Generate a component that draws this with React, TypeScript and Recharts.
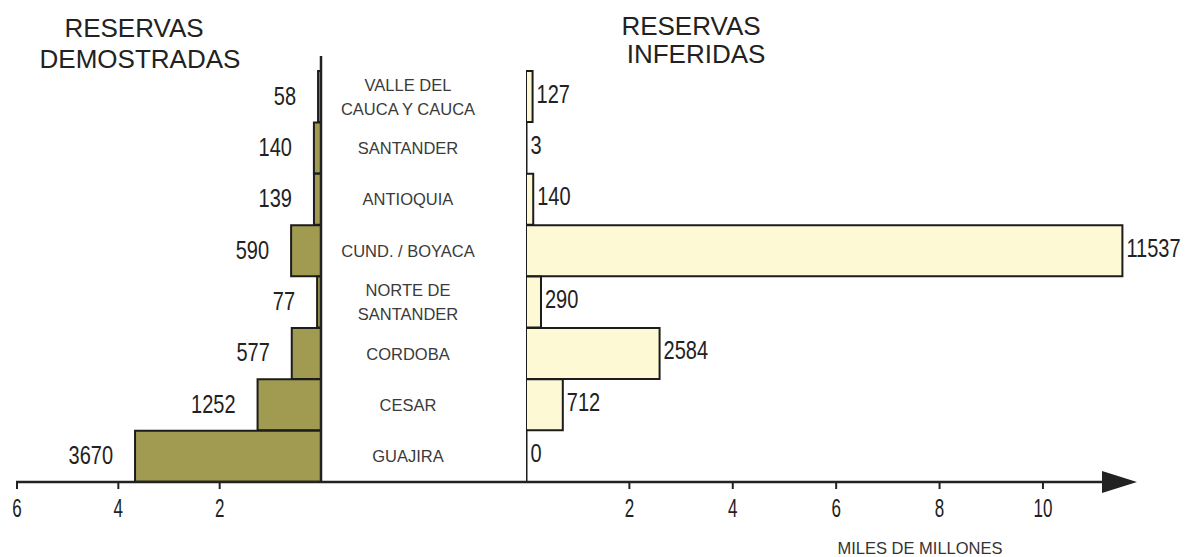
import React from 'react';
import { BarChart, Bar, XAxis, YAxis, LabelList } from 'recharts';

// regiones (de arriba hacia abajo), valores en millones de toneladas
const regiones = [
  'VALLE DEL\nCAUCA Y CAUCA',
  'SANTANDER',
  'ANTIOQUIA',
  'CUND. / BOYACA',
  'NORTE DE\nSANTANDER',
  'CORDOBA',
  'CESAR',
  'GUAJIRA',
];
const demostradas = [58, 140, 139, 590, 77, 577, 1252, 3670];
const inferidas = [127, 3, 140, 11537, 290, 2584, 712, 0];
const ticksDem = [2000, 4000, 6000];
const ticksInf = [2000, 4000, 6000, 8000, 10000];

const data = regiones.map((r, i) => ({ region: r, dem: demostradas[i], inf: inferidas[i] }));

const W = 1194;
const H = 557;
const AXIS_Y = 482;
const TOP = 56;
const INK = '#222';
const SANS = "'Liberation Sans', Arial, sans-serif";

// texto angosto (tipo Helvetica Condensed)
const Narrow = ({ x, y, anchor, size, sx, children }: any) => (
  <text transform={`translate(${x},${y}) scale(${sx},1)`} textAnchor={anchor}
    fontFamily={SANS} fontSize={size} fill={INK}>
    {children}
  </text>
);

const RegionTick = (props: any) => {
  const { y, payload } = props;
  const lines = String(payload.value).split('\n');
  const lh = 24;
  const start = y - ((lines.length - 1) * lh) / 2;
  return (
    <text x={408} y={start} textAnchor="middle" dominantBaseline="central" fontFamily={SANS} fontSize={16.5} fill="#3a3a3a">
      {lines.map((l, i) => (
        <tspan key={i} x={408} y={start + i * lh}>{l}</tspan>
      ))}
    </text>
  );
};

const NumTick = (props: any) => {
  const { x, y, payload } = props;
  return <Narrow x={x} y={y + 26} anchor="middle" size={25} sx={0.68}>{payload.value / 1000}</Narrow>;
};

const LeftLabel = (props: any) => {
  const { x, y, width, height, value } = props;
  const edge = Math.min(x, x + width);
  return <Narrow x={edge - 22} y={y + height / 2 + 8} anchor="end" size={25} sx={0.8}>{value}</Narrow>;
};

const RightLabel = (props: any) => {
  const { x, y, width, height, value } = props;
  const edge = Math.max(x, x + width);
  return <Narrow x={edge + 4} y={y + height / 2 + 6} anchor="start" size={25} sx={0.8}>{value}</Narrow>;
};

export default function App() {
  return (
    <div style={{ position: 'absolute', left: 0, top: 0, width: W, height: H, background: '#fff' }}>
      {/* reservas demostradas: barras hacia la izquierda */}
      <div style={{ position: 'absolute', left: 0, top: 0 }}>
        <BarChart width={526} height={H} data={data} layout="vertical" barCategoryGap={0}
          margin={{ top: TOP, right: 0, bottom: 0, left: 17 }}>
          <XAxis type="number" domain={[0, 6000]} reversed ticks={ticksDem} allowDataOverflow
            axisLine={false} tickLine={{ stroke: INK, strokeWidth: 2 }} tickSize={7} height={H - AXIS_Y} tick={<NumTick />} />
          <YAxis type="category" dataKey="region" orientation="right" width={205} padding={{ top: 15, bottom: 0 }}
            axisLine={{ stroke: INK, strokeWidth: 2.5 }} tickLine={false} tick={<RegionTick />} interval={0} />
          <Bar dataKey="dem" fill="#a19b52" stroke="#1c1c1c" strokeWidth={2} isAnimationActive={false}>
            <LabelList dataKey="dem" content={<LeftLabel />} />
          </Bar>
        </BarChart>
      </div>

      {/* reservas inferidas: barras hacia la derecha */}
      <div style={{ position: 'absolute', left: 0, top: 0 }}>
        <BarChart width={W} height={H} data={data} layout="vertical" barCategoryGap={0}
          margin={{ top: TOP, right: 58, bottom: 0, left: 526 }}>
          <XAxis type="number" domain={[0, 11800]} ticks={ticksInf} allowDataOverflow
            axisLine={false} tickLine={{ stroke: INK, strokeWidth: 2 }} tickSize={7} height={H - AXIS_Y} tick={<NumTick />} />
          <YAxis type="category" dataKey="region" width={0} padding={{ top: 15, bottom: 0 }}
            axisLine={{ stroke: INK, strokeWidth: 2.5 }} tickLine={false} tick={false} />
          <Bar dataKey="inf" fill="#fdf9d4" stroke="#1c1c1c" strokeWidth={2} minPointSize={0.5} isAnimationActive={false}>
            <LabelList dataKey="inf" content={<RightLabel />} />
          </Bar>
        </BarChart>
      </div>

      {/* eje horizontal con flecha y títulos */}
      <svg width={W} height={H} style={{ position: 'absolute', left: 0, top: 0, pointerEvents: 'none' }}>
        <line x1={16} y1={AXIS_Y} x2={1108} y2={AXIS_Y} stroke={INK} strokeWidth={2.5} />
        <polygon points={`1102,${AXIS_Y - 11} 1137,${AXIS_Y} 1102,${AXIS_Y + 11}`} fill={INK} />
        <g fontFamily={SANS} fontSize={26} fill={INK} textAnchor="middle">
          <text x={134} y={37}>RESERVAS</text>
          <text x={140} y={68}>DEMOSTRADAS</text>
          <text x={691} y={35}>RESERVAS</text>
          <text x={696} y={63}>INFERIDAS</text>
        </g>
        <text x={920} y={554} textAnchor="middle" fontFamily={SANS} fontSize={16.5} fill="#333">MILES DE MILLONES</text>
      </svg>
    </div>
  );
}
